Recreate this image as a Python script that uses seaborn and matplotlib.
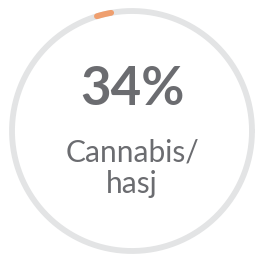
import numpy as np
import matplotlib
matplotlib.use("Agg")
import matplotlib.pyplot as plt
import seaborn as sns

# values
percent = 34
label_lines = ["Cannabis/", "hasj"]
arc_start_deg = 10   # degrees counter-clockwise from the top
arc_end_deg = 17

ring_color = "#e3e4e5"
arc_color = "#ef9f6f"
text_color = "#6b6c70"

sns.set_theme(style="white")
plt.rcParams['font.family'] = ['Lato', 'DejaVu Sans']

fig = plt.figure(figsize=(2.63, 2.59), dpi=100)
ax = fig.add_axes([0, 0, 1, 1])

# background ring
theta = np.linspace(0, 2 * np.pi, 400)
ax.plot(np.cos(theta), np.sin(theta), color=ring_color, lw=4.2)

# orange progress arc
a = np.radians(90 + np.linspace(arc_start_deg, arc_end_deg, 30))
ax.plot(np.cos(a), np.sin(a), color=arc_color, lw=4.2, solid_capstyle="round")

ax.text(0, 0.217, f"{percent}%", ha="center", va="baseline", fontsize=38,
        fontweight="bold", color=text_color)
ax.text(0, -0.258, label_lines[0], ha="center", va="baseline", fontsize=21.5,
        fontweight="normal", color=text_color)
ax.text(0, -0.517, label_lines[1], ha="center", va="baseline", fontsize=21.5,
        fontweight="normal", color=text_color)

# pixel mapping: center at (132,131), radius 120 px
r = 120.0
ax.set_xlim(-132 / r, (263 - 132) / r)
ax.set_ylim(-(259 - 131) / r, 131 / r)
ax.set_axis_off()

fig.savefig("out.png", dpi=100, facecolor="white")
